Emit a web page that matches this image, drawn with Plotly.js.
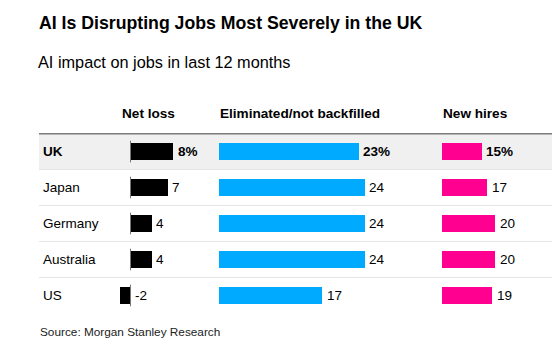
<!DOCTYPE html>
<html>
<head>
<meta charset="utf-8">
<script src="https://cdn.plot.ly/plotly-3.0.1.min.js"></script>
<style>html,body{margin:0;padding:0;background:#fff;}#chart{width:560px;height:350px;}</style>
</head>
<body>
<div id="chart"></div>
<script>
const countries = ["UK", "Japan", "Germany", "Australia", "US"];
const netLoss = [8, 7, 4, 4, -2];
const eliminated = [23, 24, 24, 24, 17];
const newHires = [15, 17, 20, 20, 19];
const columnTitles = ["Net loss", "Eliminated/not backfilled", "New hires"];
const titleText = "AI Is Disrupting Jobs Most Severely in the UK";
const subtitleText = "AI impact on jobs in last 12 months";
const sourceText = "Source: Morgan Stanley Research";

const W = 560, H = 350;
const px = v => v / W;
const py = v => 1 - v / H;
const FONT = "Liberation Sans, Arial, sans-serif";

function barTrace(vals, axis, color) {
  return {
    type: "bar", orientation: "h", x: vals, y: countries,
    xaxis: axis, yaxis: "y", width: 0.48,
    marker: {color: color, line: {width: 0}},
    hoverinfo: "skip", showlegend: false
  };
}
const data = [
  barTrace(netLoss, "x", "#000000"),
  barTrace(eliminated, "x2", "#00aaff"),
  barTrace(newHires, "x3", "#ff0090")
];

const annotations = [];
const shapes = [];

// titles
annotations.push({xref:"paper", yref:"paper", x:px(37), y:py(23), xanchor:"left", yanchor:"middle",
  text:"<b>"+titleText+"</b>", showarrow:false, font:{family:FONT, size:17.7, color:"#000"}});
annotations.push({xref:"paper", yref:"paper", x:px(36), y:py(62), xanchor:"left", yanchor:"middle",
  text:subtitleText, showarrow:false, font:{family:FONT, size:16.3, color:"#000"}});
annotations.push({xref:"paper", yref:"paper", x:px(38), y:py(332), xanchor:"left", yanchor:"middle",
  text:sourceText, showarrow:false, font:{family:FONT, size:11.8, color:"#222"}});

// column headers
const headerX = [120, 218, 441];
columnTitles.forEach((t, i) => {
  annotations.push({xref:"paper", yref:"paper", x:px(headerX[i]), y:py(113), xanchor:"left", yanchor:"middle",
    text:"<b>"+t+"</b>", showarrow:false, font:{family:FONT, size:13.6, color:"#000"}});
});

// country labels
countries.forEach((c, i) => {
  annotations.push({xref:"paper", yref:"y", x:px(41), y:c, xanchor:"left", yanchor:"middle",
    text: i === 0 ? "<b>"+c+"</b>" : c, showarrow:false,
    font:{family:FONT, size:13.5, color:"#000"}});
});

// value labels
function valueLabels(vals, axis) {
  vals.forEach((v, i) => {
    annotations.push({xref:axis, yref:"y", x:Math.max(v, 0), y:countries[i], xanchor:"left", yanchor:"middle",
      xshift:2.5, showarrow:false,
      text: i === 0 ? "<b>"+v+"%</b>" : String(v),
      font:{family:FONT, size:13.5, color:"#000"}});
  });
}
valueLabels(netLoss, "x");
valueLabels(eliminated, "x2");
valueLabels(newHires, "x3");

// highlight band for first row
shapes.push({type:"rect", xref:"paper", yref:"y", x0:px(39), x1:px(552), y0:-0.5, y1:0.5,
  fillcolor:"#f0f0f0", line:{width:0}, layer:"below"});
// row separators
for (let i = 1; i < countries.length; i++) {
  shapes.push({type:"line", xref:"paper", yref:"y", x0:px(39), x1:px(552), y0:i-0.5, y1:i-0.5,
    line:{color:"#e6e6e6", width:1}, layer:"below"});
}
// header rule
shapes.push({type:"line", xref:"paper", yref:"y", x0:px(39), x1:px(552), y0:-0.5, y1:-0.5,
  line:{color:"#000", width:1.6}, layer:"above"});
// zero ticks for net loss
countries.forEach((c, i) => {
  shapes.push({type:"line", xref:"x", yref:"y", x0:0, x1:0, y0:i-0.3, y1:i+0.3,
    line:{color:"#777", width:1}, layer:"above"});
});

const hiddenAxis = (domain, range) => ({domain: domain, range: range, showgrid:false, zeroline:false,
  showticklabels:false, showline:false, ticks:"", fixedrange:true});

const layout = {
  width: W, height: H,
  margin: {l:0, r:0, t:0, b:0},
  paper_bgcolor: "#fff", plot_bgcolor: "rgba(0,0,0,0)",
  showlegend: false,
  xaxis: hiddenAxis([px(109.1), px(194.7)], [-4, 12]),
  xaxis2: Object.assign(hiddenAxis([px(219), px(401.4)], [0, 30]), {anchor:"y"}),
  xaxis3: Object.assign(hiddenAxis([px(442), px(548)], [0, 40]), {anchor:"y"}),
  yaxis: {type:"category", categoryarray: countries, categoryorder:"array",
    range:[4.5, -0.5], domain:[py(313.5), py(133.5)], showgrid:false, zeroline:false,
    showticklabels:false, showline:false, ticks:"", fixedrange:true},
  annotations: annotations,
  shapes: shapes,
  bargap: 0
};

Plotly.newPlot("chart", data, layout, {staticPlot:true, displayModeBar:false});
</script>
</body>
</html>
